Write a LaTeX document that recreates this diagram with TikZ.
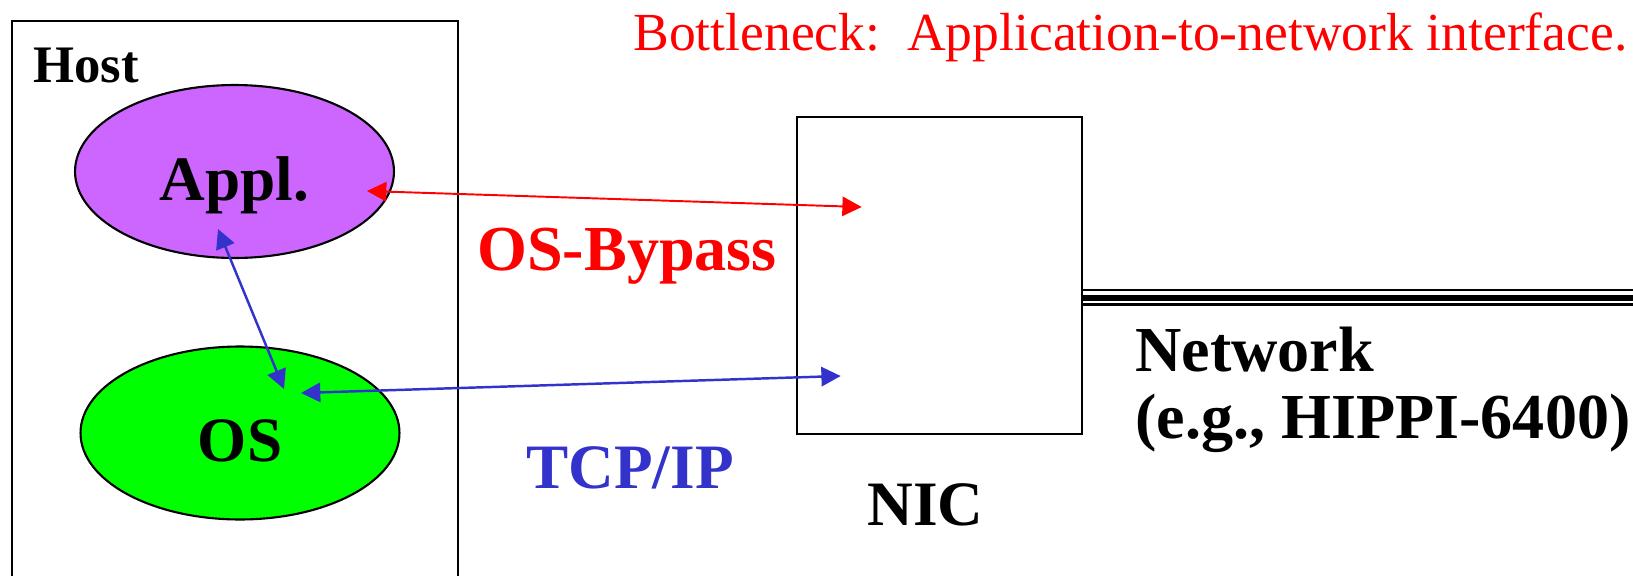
\documentclass[tikz,border=0pt]{standalone}
\usepackage{fontspec}
\setmainfont{Liberation Serif}
\usetikzlibrary{shapes.geometric,arrows.meta}
\definecolor{applpurple}{RGB}{204,102,255}
\definecolor{osgreen}{RGB}{0,255,0}
\definecolor{tcpblue}{RGB}{51,51,204}
\definecolor{bypassred}{RGB}{255,0,0}

\begin{document}
\begin{tikzpicture}[x=0.02cm,y=-0.02cm,
    proc/.style={ellipse,draw,line width=1.2pt,minimum width=6.38cm,minimum height=3.46cm,inner sep=0pt,
        text height=1.15cm,text depth=0pt,font=\fontsize{36}{38}\selectfont\bfseries},
    lbl/.style={inner sep=0pt,anchor=base west,font=\fontsize{36}{37.6}\selectfont\bfseries},
    link/.style={{Triangle[length=11pt,width=11pt]}-{Triangle[length=11pt,width=11pt]}}]
    \clip (0,0) rectangle (1633,575);

    % Host
    \draw[line width=1.5pt] (12,21) rectangle (458,600);
    \node[lbl,font=\fontsize{30}{36}\selectfont\bfseries] (hostlbl) at (33,82) {Host};
    \node[proc,fill=applpurple] (appl) at (234.5,171.5) {Appl.};
    \node[proc,fill=osgreen] (os) at (240,433) {OS};

    % NIC and network
    \node[draw,line width=1.5pt,minimum width=5.7cm,minimum height=6.34cm,inner sep=0pt] (nic) at (939.5,275.5) {};
    \node[lbl] (niclbl) at (867,525) {NIC};
    \draw[line width=1.3pt] ([shift={(0,14.2)}]nic.east) -- ++(600,0);
    \draw[line width=3.6pt] ([shift={(0,22.3)}]nic.east) -- ++(600,0);
    \draw[line width=1.4pt] ([shift={(0,29.2)}]nic.east) -- ++(600,0);
    \node[lbl,align=left,font=\fontsize{36.5}{37.6}\selectfont\bfseries] (net) at (1135,438) {Network\\(e.g., HIPPI-6400)};

    % Paths
    \draw[link,line width=1.1pt,bypassred] ([shift={(132.5,19.5)}]appl.center) -- ([shift={(66,-68.5)}]nic.west);
    \draw[link,line width=1.4pt,tcpblue] ([shift={(-16.5,57.5)}]appl.center) -- ([shift={(44,-44)}]os.center);
    \draw[link,line width=1.4pt,tcpblue] ([shift={(61,-40)}]os.center) -- ([shift={(45,100.5)}]nic.west);
    \node[lbl,bypassred,font=\fontsize{36.5}{38}\selectfont\bfseries] (bypass) at (477,270) {OS-Bypass};
    \node[lbl,tcpblue] (tcp) at (526,488) {TCP/IP};

    \node[lbl,font=\fontsize{30.5}{36}\selectfont,bypassred] (bottleneck) at (633,50) {Bottleneck:\ \ Application-to-network interface.};
\end{tikzpicture}
\end{document}
